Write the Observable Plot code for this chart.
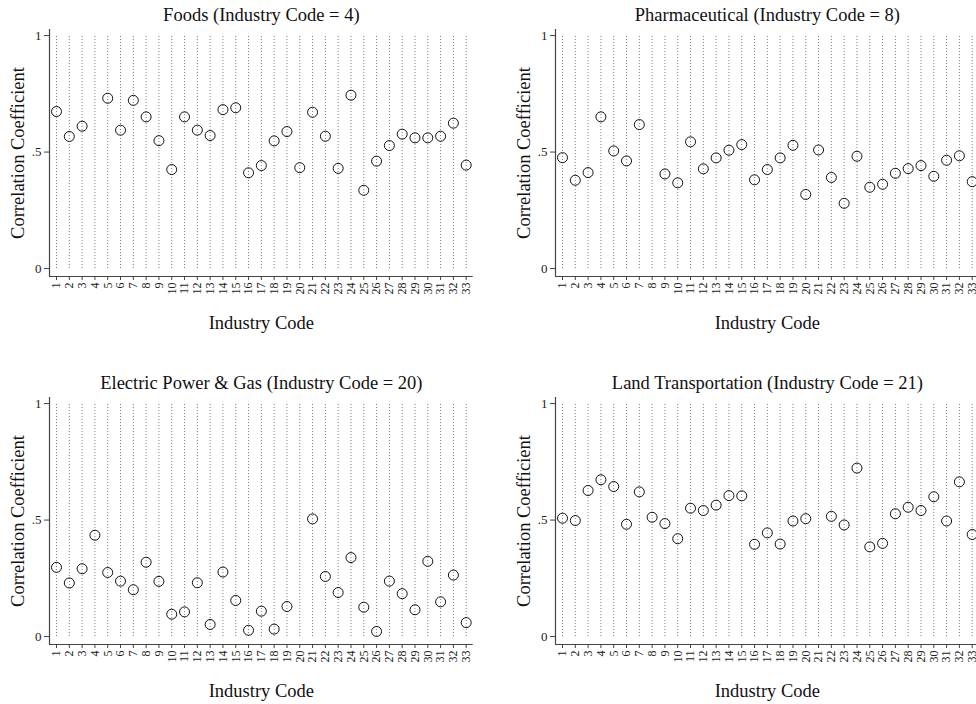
<!DOCTYPE html>
<html>
<head>
<meta charset="utf-8">
<script src="https://cdn.jsdelivr.net/npm/d3@7"></script>
<script src="https://cdn.jsdelivr.net/npm/@observablehq/plot@0.6"></script>
<style>
  html, body { margin: 0; padding: 0; background: #fff; overflow: hidden; }
  #wrap { position: relative; width: 976px; height: 704px; overflow: hidden; }
  .panel { position: absolute; width: 500px; height: 340px; }
  .panel svg { max-width: none !important; display: block; }
</style>
</head>
<body>
<div id="wrap"></div>
<script>
const codes = [1,2,3,4,5,6,7,8,9,10,11,12,13,14,15,16,17,18,19,20,21,22,23,24,25,26,27,28,29,30,31,32,33];
const yTicks = [0, 0.5, 1];
const yTickLabels = ["0", ".5", "1"];

const titles = [
  "Foods (Industry Code = 4)",
  "Pharmaceutical (Industry Code = 8)",
  "Electric Power & Gas (Industry Code = 20)",
  "Land Transportation (Industry Code = 21)"
];

const foods = [0.674,0.567,0.611,null,0.731,0.594,0.722,0.651,0.549,0.425,0.651,0.594,0.571,0.682,0.690,0.411,0.442,0.548,0.588,0.433,0.671,0.568,0.430,0.744,0.336,0.461,0.528,0.577,0.561,0.561,0.568,0.624,0.444];
const pharma = [0.476,0.379,0.412,0.651,0.505,0.462,0.618,null,0.406,0.368,0.544,0.428,0.475,0.508,0.532,0.381,0.425,0.475,0.529,0.318,0.509,0.391,0.280,0.482,0.349,0.362,0.409,0.429,0.442,0.396,0.465,0.484,0.373];
const electric = [0.297,0.230,0.291,0.435,0.275,0.238,0.201,0.319,0.237,0.096,0.106,0.231,0.052,0.277,0.155,0.027,0.109,0.032,0.129,null,0.505,0.258,0.189,0.339,0.126,0.022,0.238,0.184,0.115,0.323,0.149,0.264,0.060];
const land = [0.508,0.498,0.627,0.673,0.644,0.482,0.621,0.512,0.485,0.420,0.551,0.541,0.564,0.605,0.604,0.396,0.445,0.397,0.496,0.506,null,0.516,0.479,0.723,0.385,0.400,0.527,0.555,0.541,0.600,0.496,0.664,0.438];

const series = [foods, pharma, electric, land];
const positions = [[0,0],[506,0],[0,368],[506,368]];

const xDom = [0.453, 33.547];
const yDom = [-0.034, 1.026];
const FONT = "'Liberation Serif', 'DejaVu Serif', serif";

const wrap = document.getElementById("wrap");

series.forEach((vals, i) => {
  const data = codes.map((c, j) => ({code: c, r: vals[j]}));
  const chart = Plot.plot({
    width: 500,
    height: 340,
    marginLeft: 49,
    marginTop: 29,
    marginBottom: 64,
    marginRight: 27.3,
    x: {domain: xDom},
    y: {domain: yDom},
    style: {fontFamily: FONT, color: "#222", background: "transparent", maxWidth: "none"},
    marks: [
      Plot.ruleX(codes, {x: d => d, y1: 0, y2: 1.005, stroke: "#666", strokeWidth: 0.9, strokeDasharray: "1 2"}),
      Plot.ruleX([xDom[0]], {y1: yDom[0], y2: yDom[1], stroke: "#444", strokeWidth: 1.2}),
      Plot.ruleY([yDom[0]], {x1: xDom[0], x2: xDom[1], stroke: "#444", strokeWidth: 1.2}),
      Plot.axisY({ticks: yTicks, tickFormat: d => yTickLabels[yTicks.indexOf(d)], tickSize: 5, tickPadding: 3, fontSize: 13, label: null, stroke: "#444"}),
      Plot.axisX({ticks: codes, tickFormat: d => String(d), tickRotate: -90, tickSize: 4, tickPadding: 2, fontSize: 12, label: null, stroke: "#444"}),
      Plot.dot(data, {x: "code", y: "r", r: 5, stroke: "#111", strokeWidth: 1, fill: "none"}),
      Plot.text([titles[i]], {text: d => d, frameAnchor: "top", dy: -14, lineAnchor: "middle", textAnchor: "middle", fontSize: 18.5, fill: "#111"}),
      Plot.text(["Correlation Coefficient"], {text: d => d, frameAnchor: "left", dx: -31.5, rotate: -90, lineAnchor: "middle", textAnchor: "middle", fontSize: 18.5, fill: "#111"}),
      Plot.text(["Industry Code"], {text: d => d, frameAnchor: "bottom", dy: 47, lineAnchor: "middle", textAnchor: "middle", fontSize: 18.5, fill: "#111"})
    ]
  });
  chart.style.maxWidth = "none";
  const div = document.createElement("div");
  div.className = "panel";
  div.style.left = positions[i][0] + "px";
  div.style.top = positions[i][1] + "px";
  div.appendChild(chart);
  wrap.appendChild(div);
});
</script>
</body>
</html>
